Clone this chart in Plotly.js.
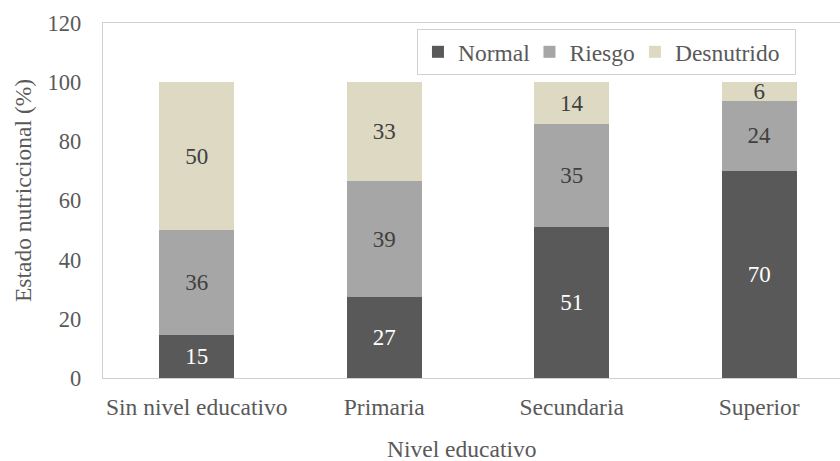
<!DOCTYPE html>
<html>
<head>
<meta charset="utf-8">
<script src="https://cdn.plot.ly/plotly-3.0.1.min.js"></script>
<style>
  html, body { margin: 0; padding: 0; background: #ffffff; }
  #chart { width: 840px; height: 461px; }
</style>
</head>
<body>
<div id="chart"></div>
<script>
const categories = ['Sin nivel educativo', 'Primaria', 'Secundaria', 'Superior'];
const normal = [14.5, 27.3, 51.2, 70.0];
const riesgo = [35.5, 39.3, 34.7, 23.7];
const desnutrido = [50.0, 33.4, 14.1, 6.3];
const yTicks = [0, 20, 40, 60, 80, 100, 120];

const FONT = 'Liberation Serif';
const FS = 23.5;

function barTrace(name, values, color, textColor, legendW) {
  return {
    type: 'bar',
    name: name,
    x: categories,
    y: values,
    legendwidth: legendW,
    marker: { color: color, line: { width: 0 } },
    texttemplate: '%{y:.0f}',
    textposition: 'inside',
    insidetextanchor: 'middle',
    textangle: 0,
    constraintext: 'none',
    textfont: { family: FONT, size: 23, color: textColor },
    hoverinfo: 'x+y+name'
  };
}

const data = [
  barTrace('Normal', normal, '#595959', '#ffffff', 66.5),
  barTrace('Riesgo', riesgo, '#a6a6a6', '#404040', 60.5),
  barTrace('Desnutrido', desnutrido, '#ddd9c3', '#404040', 115)
];

const layout = {
  width: 840,
  height: 461,
  margin: { l: 103, r: 0, t: 23, b: 83, pad: 0 },
  paper_bgcolor: '#ffffff',
  plot_bgcolor: '#ffffff',
  barmode: 'stack',
  bargap: 0.6,
  font: { family: FONT, size: FS, color: '#595959' },
  showlegend: true,
  legend: {
    orientation: 'h',
    traceorder: 'normal',
    x: 0.426, xanchor: 'left',
    y: 0.983, yanchor: 'top',
    bgcolor: '#ffffff',
    bordercolor: '#d0d0d0',
    borderwidth: 1,
    font: { family: FONT, size: FS, color: '#595959' }
  },
  xaxis: {
    type: 'category',
    range: [-0.5, 3.431],
    showline: true,
    linecolor: '#d0d0d0',
    linewidth: 1.3,
    mirror: true,
    showgrid: false,
    zeroline: false,
    ticks: '',
    ticklabelstandoff: 7,
    tickfont: { family: FONT, size: FS, color: '#595959' }
  },
  yaxis: {
    range: [0, 120],
    tickvals: yTicks,
    ticktext: yTicks.map(String),
    showline: true,
    linecolor: '#d0d0d0',
    linewidth: 1.3,
    mirror: false,
    showgrid: false,
    zeroline: false,
    ticks: '',
    ticklabelstandoff: 16,
    tickfont: { family: FONT, size: 22.5, color: '#595959' }
  },
  annotations: [
    {
      text: 'Nivel educativo',
      xref: 'paper', yref: 'paper',
      x: (461.3 - 103) / 737, y: -(449 - 378) / 355,
      xanchor: 'center', yanchor: 'middle',
      showarrow: false,
      font: { family: FONT, size: FS, color: '#595959' }
    },
    {
      text: 'Estado nutriccional (%)',
      xref: 'paper', yref: 'paper',
      x: -(103 - 23) / 737, y: (378 - 191) / 355,
      xanchor: 'center', yanchor: 'middle',
      textangle: -90,
      showarrow: false,
      font: { family: FONT, size: FS, color: '#595959' }
    }
  ]
};

Plotly.newPlot('chart', data, layout, { displayModeBar: false, staticPlot: true });
</script>
</body>
</html>
